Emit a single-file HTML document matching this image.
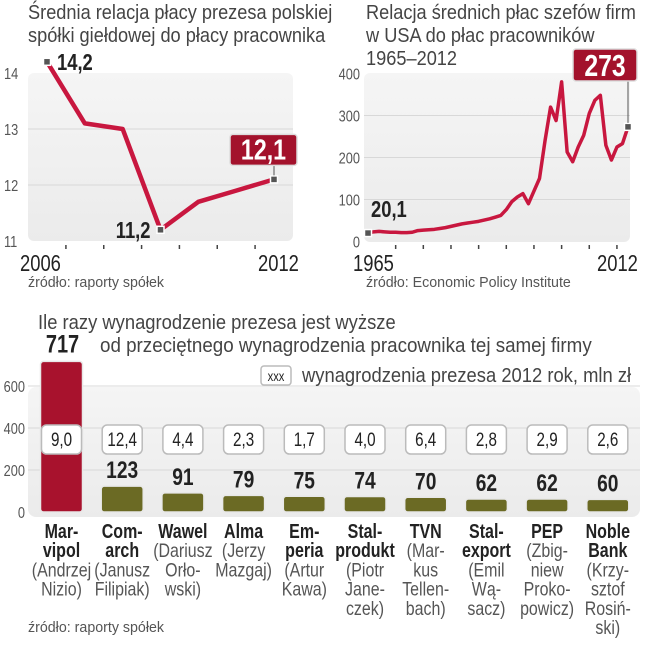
<!DOCTYPE html>
<html><head><meta charset="utf-8">
<style>
body{margin:0;background:#fff;width:645px;height:640px;overflow:hidden;font-family:"Liberation Sans",sans-serif;}
svg text{font-family:"Liberation Sans",sans-serif;}
</style></head>
<body>
<svg id="c" width="645" height="640" viewBox="0 0 645 640" xmlns="http://www.w3.org/2000/svg">
<defs>
<linearGradient id="bg" x1="0" y1="0" x2="0" y2="1"><stop offset="0" stop-color="#f5f5f5"/><stop offset="1" stop-color="#ebebeb"/></linearGradient>
</defs>
<g fill="#444" font-size="20">
<text x="28" y="19" data-sx="0.91">Średnia relacja płacy prezesa polskiej</text>
<text x="28" y="42" data-sx="0.91">spółki giełdowej do płacy pracownika</text>
</g>
<g fill="#444" font-size="20">
<text x="366" y="19" data-sx="0.91">Relacja średnich płac szefów firm</text>
<text x="366" y="42" data-sx="0.91">w USA do płac pracowników</text>
<text x="366" y="65" data-sx="0.91">1965–2012</text>
</g>
<g id="g1"></g>
<g id="g2"></g>
<g id="g3"></g>
<text x="28" y="287" font-size="15" fill="#555" data-sx="0.95">źródło: raporty spółek</text>
<text x="366" y="287" font-size="15" fill="#555" data-sx="0.95">źródło: Economic Policy Institute</text>
<text x="38" y="329" font-size="20" fill="#444" data-sx="0.92">Ile razy wynagrodzenie prezesa jest wyższe</text>
<text x="100" y="352" font-size="20" fill="#444" data-sx="0.94">od przeciętnego wynagrodzenia pracownika tej samej firmy</text>
<g>
<rect x="261" y="366" width="30" height="19" rx="3" fill="#fff" stroke="#bbb" stroke-width="1.5"/>
<text x="276" y="381" font-size="14" text-anchor="middle" fill="#222">xxx</text>
<text x="302" y="382" font-size="20" fill="#444" data-sx="0.92">wynagrodzenia prezesa 2012 rok, mln zł</text>
</g>
<text x="28" y="632" font-size="15" fill="#555" data-sx="0.95">źródło: raporty spółek</text>
</svg>
<script>
const NS="http://www.w3.org/2000/svg";
function mk(parent,tag,attrs,txt){const e=document.createElementNS(NS,tag);for(const k in attrs)e.setAttribute(k,attrs[k]);if(txt!==undefined)e.textContent=txt;parent.appendChild(e);return e;}

// ---- chart 1 data
const years1=[2006,2007,2008,2009,2010,2011,2012];
const values1=[14.2,13.1,13.0,11.2,11.7,11.9,12.1];
const ticks1=[11,12,13,14];
// ---- chart 2 data
const years2=[1965,1966,1967,1968,1969,1970,1971,1972,1973,1974,1975,1976,1977,1978,1979,1980,1981,1982,1983,1984,1985,1986,1987,1988,1989,1990,1991,1992,1993,1994,1995,1996,1997,1998,1999,2000,2001,2002,2003,2004,2005,2006,2007,2008,2009,2010,2011,2012];
const values2=[20.1,23,24,23,22,22,21,21,22,26,27,28,29,31,33,36,39,42,44,46,48,51,54,58,62,76,95,106,114,90,120,150,240,320,288,380,213,190,225,253,305,336,348,229,194,225,233,273];
const ticks2=[0,100,200,300,400];
// ---- chart 3 data
const companies=["Mar-|vipol","Com-|arch","Wawel","Alma","Em-|peria","Stal-|produkt","TVN","Stal-|export","PEP","Noble|Bank"];
const persons=["(Andrzej|Nizio)","(Janusz|Filipiak)","(Dariusz|Orło-|wski)","(Jerzy|Mazgaj)","(Artur|Kawa)","(Piotr|Jane-|czek)","(Mar-|kus|Tellen-|bach)","(Emil|Wą-|sacz)","(Zbig-|niew|Proko-|powicz)","(Krzy-|sztof|Rosiń-|ski)"];
const ratios=[717,123,91,79,75,74,70,62,62,60];
const salaries=["9,0","12,4","4,4","2,3","1,7","4,0","6,4","2,8","2,9","2,6"];
const ticks3=[0,200,400,600];

const RED="#c8173f", BOX="#a3122c", OLIVE="#6b6a24";

// ---------- chart 1
(function(){
 const g=document.getElementById('g1');
 const x=yr=>47+(yr-2006)*(274-47)/6;
 const y=v=>241-(v-11)*56;
 const bg=mk(g,'rect',{x:28,y:73,width:265,height:168,rx:6,fill:'url(#bg)'});
 
 ticks1.forEach(t=>{
  if(t>11&&t<14){const l=mk(g,'line',{x1:28,x2:293,y1:y(t),y2:y(t),stroke:'#d8d8d8','stroke-width':1});}
  const tx=mk(g,'text',{x:4,y:y(t)+6,'font-size':16,fill:'#555'},String(t));
  
 });
 for(let i=0;i<6;i++){const xx=x(2006.5+i);const l=mk(g,'line',{x1:xx,x2:xx,y1:245,y2:249,stroke:'#444','stroke-width':1.5});}
 const p=mk(g,'polyline',{points:years1.map((yr,i)=>x(yr)+','+y(values1[i])).join(' '),fill:'none',stroke:RED,'stroke-width':4.5,'stroke-linejoin':'round'});
 
 [0,3,6].forEach(i=>{const m=mk(g,'rect',{x:x(years1[i])-3.5,y:y(values1[i])-3.5,width:7,height:7,fill:'#555',stroke:'#fff','stroke-width':1.5});});
 const fmt=v=>v.toFixed(1).replace('.',',');
 let t=mk(g,'text',{x:x(years1[0])+10,y:y(values1[0])+8,'font-size':23,'font-weight':'bold',fill:'#222'},fmt(values1[0]));
 t=mk(g,'text',{x:x(years1[3])-10,y:y(values1[3])+8,'font-size':23,'font-weight':'bold',fill:'#222','text-anchor':'end'},fmt(values1[3]));
 const lx=x(years1[6]),ly=y(values1[6]);
 mk(g,'line',{x1:lx,x2:lx,y1:ly-4,y2:ly-14,stroke:'#555','stroke-width':1});
 const b=mk(g,'rect',{x:lx-44,y:ly-45,width:67,height:31,rx:3,fill:BOX,stroke:'#ddd','stroke-width':1.5});
 t=mk(g,'text',{x:lx-10.5,y:ly-20,'font-size':29,'font-weight':'bold',fill:'#fff','text-anchor':'middle'},fmt(values1[6]));
 t=mk(g,'text',{x:20,y:271,'font-size':23,fill:'#222'},String(years1[0]));
 t=mk(g,'text',{x:258,y:271,'font-size':23,fill:'#222'},String(years1[6]));
})();

// ---------- chart 2
(function(){
 const g=document.getElementById('g2');
 const x=yr=>368+(yr-1965)*(628-368)/47;
 const y=v=>241.5-v*0.42;
 const bg=mk(g,'rect',{x:364,y:73,width:266,height:169,rx:6,fill:'url(#bg)'});
 
 ticks2.forEach(t=>{
  if(t>0&&t<400){const l=mk(g,'line',{x1:364,x2:630,y1:y(t),y2:y(t),stroke:'#d8d8d8','stroke-width':1});}
  const tx=mk(g,'text',{x:360,y:y(t)+6,'font-size':16,fill:'#555','text-anchor':'end'},String(t));
  
 });
 for(let yr=1970;yr<=2010;yr+=5){const xx=x(yr);const l=mk(g,'line',{x1:xx,x2:xx,y1:245,y2:249,stroke:'#444','stroke-width':1.5});}
 const p=mk(g,'polyline',{points:years2.map((yr,i)=>x(yr)+','+y(values2[i])).join(' '),fill:'none',stroke:RED,'stroke-width':3.5,'stroke-linejoin':'round'});
 
 const n=values2.length-1;
 [0,n].forEach(i=>{const m=mk(g,'rect',{x:x(years2[i])-3.5,y:y(values2[i])-3.5,width:7,height:7,fill:'#555',stroke:'#fff','stroke-width':1.5});});
 let t=mk(g,'text',{x:x(years2[0])+3,y:y(values2[0])-16,'font-size':23,'font-weight':'bold',fill:'#222'},values2[0].toFixed(1).replace('.',','));
 const lx=x(years2[n]),ly=y(values2[n]);
 mk(g,'line',{x1:lx,x2:lx,y1:ly-4,y2:81,stroke:'#555','stroke-width':1});
 const b=mk(g,'rect',{x:573,y:49,width:64,height:32,rx:3,fill:BOX,stroke:'#ddd','stroke-width':1.5});
 t=mk(g,'text',{x:605,y:76,'font-size':31,'font-weight':'bold',fill:'#fff','text-anchor':'middle'},String(values2[n]));
 t=mk(g,'text',{x:353,y:271,'font-size':23,fill:'#222'},String(years2[0]));
 t=mk(g,'text',{x:597,y:271,'font-size':23,fill:'#222'},String(years2[n]));
})();

// ---------- chart 3
(function(){
 const g=document.getElementById('g3');
 const y=v=>512-v*0.21;
 const cx=i=>61.5+i*60.7;
 const bw=42;
 const bg=mk(g,'rect',{x:28,y:387,width:612,height:130,rx:8,fill:'url(#bg)'});
 
 ticks3.forEach(t=>{
  if(t>0){const l=mk(g,'line',{x1:28,x2:640,y1:y(t),y2:y(t),stroke:'#d8d8d8','stroke-width':1});}
  const tx=mk(g,'text',{x:25,y:y(t)+6,'font-size':16,fill:'#555','text-anchor':'end'},String(t));
  
 });
 ratios.forEach((v,i)=>{
  const top=y(v);
  const r=mk(g,'rect',{x:cx(i)-bw/2,y:top,width:bw,height:512-top,rx:3,fill:i===0?'#a8122d':OLIVE,stroke:'#e8e8e8','stroke-width':1.5});
  
  const lbl=mk(g,'text',{x:i===0?cx(i)+1:cx(i),y:i===0?top-9:top-8,'font-size':i===0?25:24,'font-weight':'bold',fill:'#222','text-anchor':'middle'},String(v));
  
  const sb=mk(g,'rect',{x:cx(i)-20,y:425,width:40,height:29,rx:5,fill:'#fff',stroke:'#bbb','stroke-width':1.5});
  
  const st=mk(g,'text',{x:cx(i),y:446,'font-size':19,fill:'#222','text-anchor':'middle'},salaries[i]);
  
  let ln=0;
  companies[i].split('|').forEach(s=>{const t=mk(g,'text',{x:cx(i),y:538+ln*19.2,'font-size':20,'font-weight':'bold',fill:'#222','text-anchor':'middle'},s);ln++;});
  persons[i].split('|').forEach(s=>{const t=mk(g,'text',{x:cx(i),y:538+ln*19.2,'font-size':19,fill:'#555','text-anchor':'middle','data-sx':0.84},s);ln++;});
 });
})();

// condense text horizontally (reference uses a condensed typeface)
document.querySelectorAll('#c text').forEach(t=>{
 const x=parseFloat(t.getAttribute('x')||0), y=parseFloat(t.getAttribute('y')||0);
 const sx=t.getAttribute('data-sx')||'0.8';
 t.setAttribute('x',0);t.setAttribute('y',0);
 t.setAttribute('transform','translate('+x+' '+y+') scale('+sx+' 1)');
});
</script>
</body></html>
